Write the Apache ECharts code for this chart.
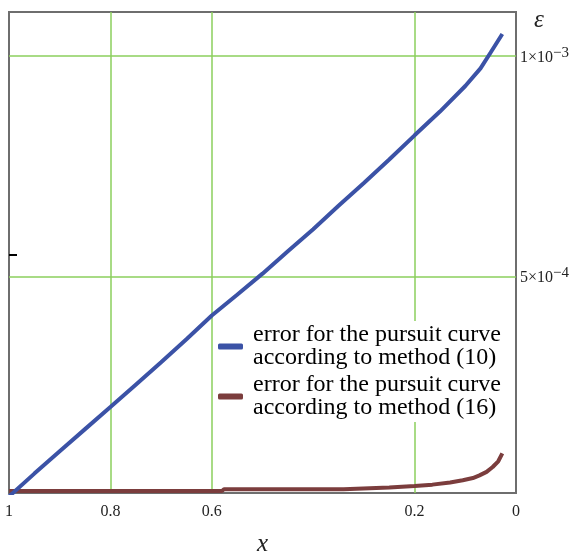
<!DOCTYPE html>
<html lang="en">
<head>
    <meta charset="utf-8" />
    <title>error of pursuit curve</title>
    <script type="text/javascript" src="https://cdn.jsdelivr.net/npm/echarts@6/dist/echarts.min.js"></script>
    <style type="text/css">
        body { margin: 0; background: #fff; }
    </style>
</head>
<body>
    <div id="main" style="width:573px;height:554px;"></div>
    <script type="text/javascript">
        // x runs from 1 down to 0, values of eps
        var blue_x = [1.0, 0.95, 0.9, 0.85, 0.8, 0.75, 0.7, 0.65, 0.6, 0.55, 0.5, 0.45, 0.4, 0.35, 0.3, 0.25, 0.2, 0.15, 0.1, 0.07, 0.05, 0.027];
        var blue_y = [0.0, 0.052e-3, 0.103e-3, 0.153e-3, 0.203e-3, 0.254e-3, 0.305e-3, 0.357e-3, 0.411e-3, 0.458e-3, 0.506e-3, 0.557e-3, 0.607e-3, 0.660e-3, 0.712e-3, 0.765e-3, 0.820e-3, 0.874e-3, 0.932e-3, 0.972e-3, 1.008e-3, 1.050e-3];

        var brown_x = [1.0, 0.58, 0.576, 0.34, 0.338, 0.25, 0.248, 0.2, 0.165, 0.13, 0.105, 0.085, 0.072, 0.058, 0.046, 0.035, 0.027];
        var brown_y = [0.0127e-3, 0.0127e-3, 0.0166e-3, 0.0166e-3, 0.0204e-3, 0.0204e-3, 0.0234e-3, 0.024e-3, 0.027e-3, 0.032e-3, 0.037e-3, 0.042e-3, 0.048e-3, 0.056e-3, 0.067e-3, 0.080e-3, 0.098e-3];

        var x_ticks = [1, 0.8, 0.6, 0.2, 0];
        var y_ticks = [0.0005, 0.001];
        var x_grid = [0.8, 0.6, 0.2];
        var y_grid = [0.0005, 0.001];
        var legend_names = ['error for the pursuit curve\naccording to method (10)', 'error for the pursuit curve\naccording to method (16)'];

        var serif = '"Liberation Serif", "DejaVu Serif", serif';

        function zip(xs, ys) {
            var out = [];
            for (var i = 0; i < xs.length; i++) out.push([xs[i], ys[i]]);
            return out;
        }

        function sciLabel(v) {
            var parts = v.toExponential().split('e');
            var exp = parseInt(parts[1], 10);
            return '{b|' + parts[0] + '×10}{s|' + (exp < 0 ? '−' + (-exp) : exp) + '}';
        }

        var gridLines = [];
        x_grid.forEach(function (v) { gridLines.push([{ coord: [v, 0.000008] }, { coord: [v, 0.0011] }]); });
        y_grid.forEach(function (v) { gridLines.push([{ coord: [1, v] }, { coord: [0, v] }]); });

        var myChart = echarts.init(document.getElementById('main'));
        var option = {
            animation: false,
            title: {
                text: 'ε',
                left: 529,
                top: 3,
                textStyle: { fontFamily: serif, fontStyle: 'italic', fontWeight: 'normal', fontSize: 25, color: '#222' }
            },
            grid: {
                left: 9, right: 57, top: 12, bottom: 61,
                outerBoundsMode: 'none',
                show: true,
                borderColor: '#6e6e6e',
                borderWidth: 2
            },
            legend: {
                orient: 'vertical',
                left: 214,
                top: 321,
                icon: 'roundRect',
                itemWidth: 25,
                itemHeight: 6,
                itemGap: 3,
                padding: [2, 4, 2, 4],
                backgroundColor: '#fff',
                data: legend_names,
                textStyle: { fontFamily: serif, fontSize: 24, lineHeight: 23, color: '#000', padding: [0, 0, 0, 5] }
            },
            xAxis: {
                type: 'value',
                min: 0,
                max: 1,
                inverse: true,
                axisLine: { show: false },
                axisTick: { show: false },
                splitLine: { show: false },
                axisLabel: {
                    customValues: x_ticks,
                    formatter: function (v) { return String(v); },
                    fontFamily: serif, fontSize: 16, color: '#222', margin: 11
                },
                name: 'x',
                nameLocation: 'middle',
                nameGap: 39,
                nameTextStyle: { fontFamily: serif, fontStyle: 'italic', fontSize: 25, color: '#222' }
            },
            yAxis: [{
                type: 'value',
                position: 'right',
                min: 0.000008,
                max: 0.0011,
                axisLine: { show: false },
                axisTick: { show: false },
                splitLine: { show: false },
                axisLabel: {
                    customValues: y_ticks,
                    formatter: sciLabel,
                    margin: 4,
                    rich: {
                        b: { fontFamily: serif, fontSize: 16, color: '#222', padding: [4, 0, 0, 0] },
                        s: { fontFamily: serif, fontSize: 15, color: '#222', padding: [0, 0, 6, 0] }
                    }
                }
            }, {
                type: 'value',
                position: 'left',
                min: 0.000008,
                max: 0.0011,
                axisLine: { show: false },
                splitLine: { show: false },
                axisLabel: { show: false },
                axisTick: {
                    customValues: [0.00055],
                    inside: true,
                    length: 8,
                    lineStyle: { color: '#000', width: 2 }
                }
            }],
            series: [{
                name: legend_names[1],
                type: 'line',
                z: 2,
                symbol: 'none',
                color: '#7b3d3d',
                lineStyle: { width: 4, color: '#7b3d3d' },
                data: zip(brown_x, brown_y),
                markLine: {
                    silent: true,
                    z: 1,
                    symbol: 'none',
                    label: { show: false },
                    lineStyle: { color: '#8bcf5c', width: 1.5, type: 'solid' },
                    data: gridLines
                }
            }, {
                name: legend_names[0],
                type: 'line',
                z: 3,
                symbol: 'none',
                color: '#3b52a6',
                lineStyle: { width: 4, color: '#3b52a6' },
                data: zip(blue_x, blue_y)
            }]
        };
        myChart.setOption(option);
    </script>
</body>
</html>
